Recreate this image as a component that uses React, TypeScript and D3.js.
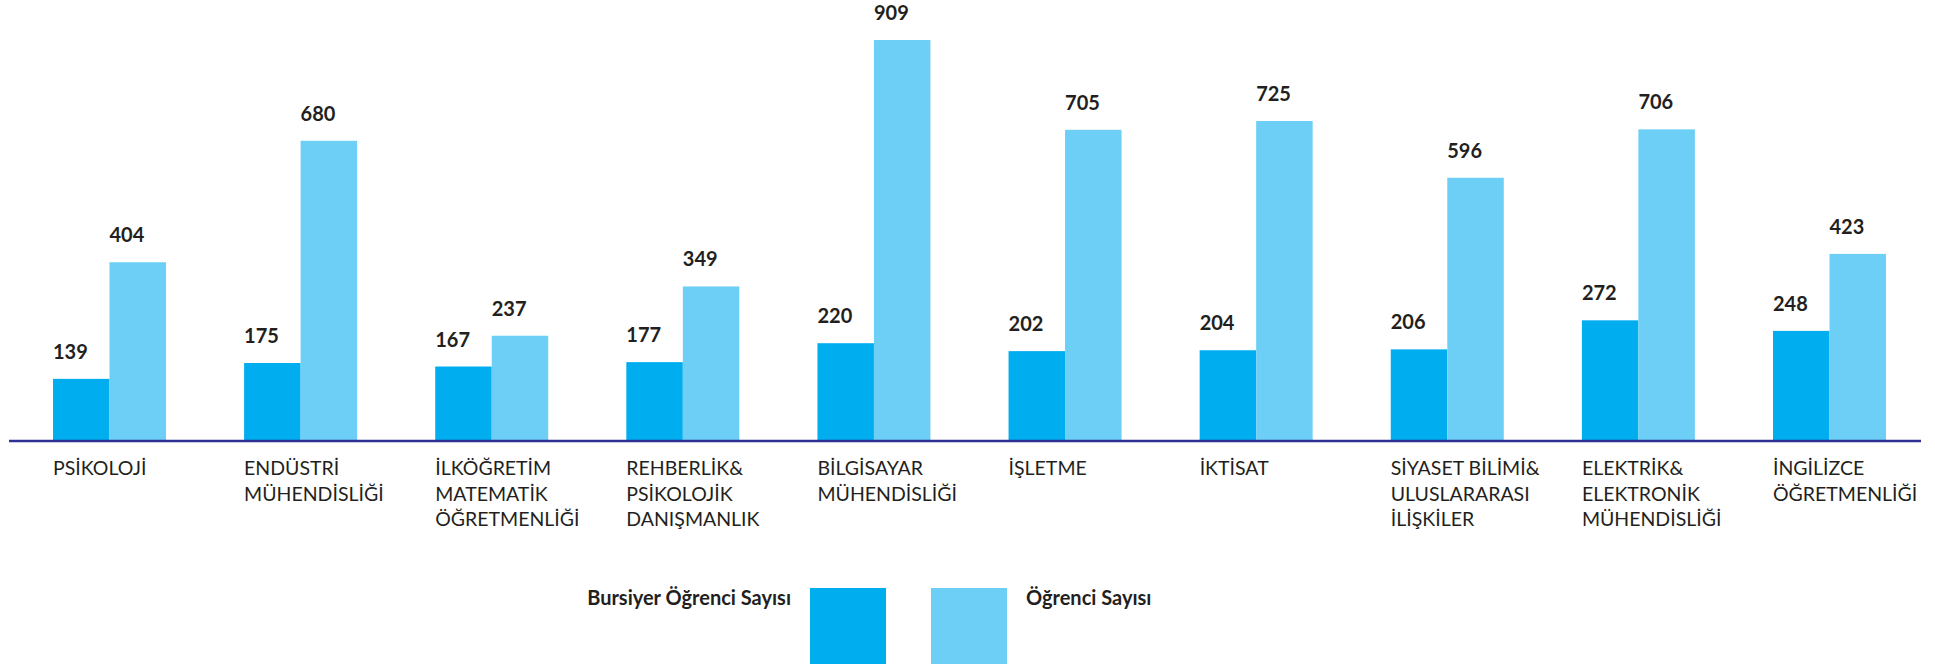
import React from "react";
import * as d3 from "d3";

const categories: string[] = [
  "PSİKOLOJİ",
  "ENDÜSTRİ\nMÜHENDİSLİĞİ",
  "İLKÖĞRETİM\nMATEMATİK\nÖĞRETMENLİĞİ",
  "REHBERLİK&\nPSİKOLOJİK\nDANIŞMANLIK",
  "BİLGİSAYAR\nMÜHENDİSLİĞİ",
  "İŞLETME",
  "İKTİSAT",
  "SİYASET BİLİMİ&\nULUSLARARASI\nİLİŞKİLER",
  "ELEKTRİK&\nELEKTRONİK\nMÜHENDİSLİĞİ",
  "İNGİLİZCE\nÖĞRETMENLİĞİ",
];

const bursiyerValues: number[] = [139, 175, 167, 177, 220, 202, 204, 206, 272, 248];
const ogrenciValues: number[] = [404, 680, 237, 349, 909, 705, 725, 596, 706, 423];

const seriesKeys: string[] = ["bursiyer", "ogrenci"];
const seriesNames: string[] = ["Bursiyer Öğrenci Sayısı", "Öğrenci Sayısı"];
const seriesColors: string[] = ["#00aeef", "#6dcff6"];

const W = 1935;
const H = 665;
const FONT = "Lato, 'Liberation Sans', sans-serif";
const TEXT = "#231f20";

export default function App() {
  const x0 = d3
    .scaleBand<string>()
    .domain(categories)
    .range([53, 1886])
    .paddingInner(0.4087)
    .paddingOuter(0);
  const x1 = d3
    .scaleBand<string>()
    .domain(seriesKeys)
    .range([0, x0.bandwidth()])
    .padding(0);
  const y = d3.scaleLinear().domain([0, 1000]).range([440, 0]);

  const rows = categories.map((c, i) => ({
    cat: c,
    vals: [bursiyerValues[i], ogrenciValues[i]],
  }));

  const axisY = y(0) + 1;
  const legendY = 588;
  const box = 76;

  return (
    <svg
      width={W}
      height={H}
      style={{ position: "absolute", left: 0, top: 0, background: "#fff" }}
      fontFamily={FONT}
    >
      <rect x={0} y={0} width={W} height={H} fill="#fff" />
      {rows.map((r) => (
        <g key={r.cat} transform={`translate(${x0(r.cat)},0)`}>
          {seriesKeys.map((k, j) => (
            <rect
              key={k}
              x={x1(k)}
              y={y(r.vals[j])}
              width={x1.bandwidth()}
              height={y(0) - y(r.vals[j])}
              fill={seriesColors[j]}
            />
          ))}
          {seriesKeys.map((k, j) => (
            <text
              key={"t" + k}
              x={x1(k)}
              y={y(r.vals[j]) - 20}
              fontSize={20}
              fontWeight={700}
              fill={TEXT}
            >
              {r.vals[j]}
            </text>
          ))}
          {r.cat.split("\n").map((line, li) => (
            <text
              key={"l" + li}
              x={0}
              y={475 + li * 25.7}
              fontSize={19.5}
              fill={TEXT}
            >
              {line}
            </text>
          ))}
        </g>
      ))}
      <line x1={9} x2={1921} y1={axisY} y2={axisY} stroke="#2e3192" strokeWidth={2.6} />
      <g>
        <text x={791} y={605} textAnchor="end" fontSize={20} fontWeight={700} fill={TEXT}>
          {seriesNames[0]}
        </text>
        <rect x={810} y={legendY} width={box} height={box} fill={seriesColors[0]} />
        <rect x={931} y={legendY} width={box} height={box} fill={seriesColors[1]} />
        <text x={1026} y={605} fontSize={20} fontWeight={700} fill={TEXT}>
          {seriesNames[1]}
        </text>
      </g>
    </svg>
  );
}
